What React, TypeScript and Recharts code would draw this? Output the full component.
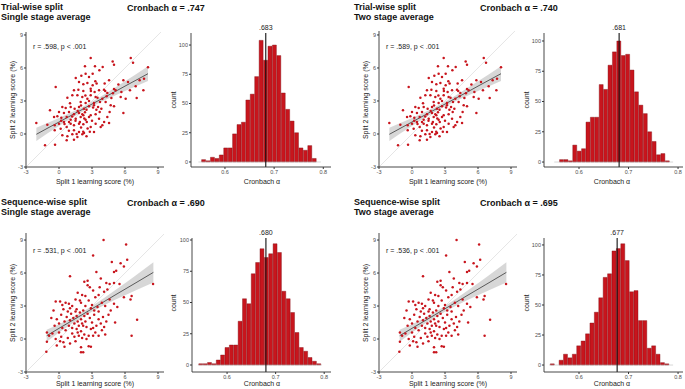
import {
  Area,
  Bar,
  BarChart,
  ComposedChart,
  Line,
  ReferenceLine,
  Scatter,
  XAxis,
  YAxis,
} from 'recharts';

const FONT = '"Liberation Sans", Arial, Helvetica, sans-serif';
const RED = '#c8151d';
const AXIS = '#333333';
const TICK = '#4d4d4d';

type Pt = [number, number];

// trial-wise split, split 1 vs split 2 learning score (%)
const trialPoints: Pt[] = [
  [2.88, 6.91], [4.88, 6.58], [6.52, 6.91], [6.73, 6.48], [8.09, 6.06], [3.27, 6.15], [2.36, 6.15], [3.67, 5.79], [3.97, 6.09], [5.0, 6.3],
  [1.52, 5.09], [2.03, 5.3], [2.42, 5.48], [2.73, 5.18], [3.06, 5.48], [5.85, 4.88], [6.27, 4.73], [7.33, 4.88], [7.73, 5.03], [1.82, 4.73],
  [2.21, 4.52], [2.58, 4.64], [3.06, 4.42], [3.42, 4.58], [4.15, 4.58], [4.55, 4.88], [-0.3, 4.27],
  [1.36, 3.97], [1.76, 4.03], [2.21, 3.91], [2.88, 4.12], [3.24, 3.82], [3.64, 3.97], [4.09, 4.03], [4.39, 3.73], [5.15, 3.97], [5.67, 3.82],
  [6.45, 3.97], [6.97, 4.33], [7.67, 3.97], [1.21, 3.52], [0.76, 3.3], [1.67, 3.52], [2.12, 3.36], [2.58, 3.21], [2.88, 3.52], [3.33, 3.36],
  [3.94, 3.21], [4.33, 3.42], [4.76, 3.27], [5.61, 3.36], [6.06, 3.21], [7.06, 3.27], [1.97, 2.91], [2.42, 2.82], [2.73, 3.0], [3.18, 2.82],
  [3.73, 2.91], [4.24, 2.91],
  [0.3, 2.45], [0.61, 2.36], [1.06, 2.45], [1.42, 2.3], [1.82, 2.45], [2.27, 2.3], [2.73, 2.52], [3.18, 2.61], [3.55, 2.45], [3.85, 2.3],
  [4.7, 2.61], [5.0, 2.52], [-0.82, 2.15], [0, 2.0], [0.45, 1.91], [0.91, 2.0], [1.36, 1.79], [1.82, 1.91], [2.12, 1.79], [2.36, 1.97],
  [2.88, 1.7], [3.33, 1.79], [5.85, 1.91], [-0.45, 1.55], [-0.15, 1.61], [0.21, 1.48], [0.7, 1.55], [1.06, 1.3], [1.52, 1.39], [1.97, 1.55],
  [2.21, 1.7], [2.42, 1.3], [2.73, 1.55], [3.64, 1.39], [4.39, 1.55], [0.91, 1.09],
  [-2.06, 1.0], [-1.06, 0.85], [-0.39, 0.79], [0, 0.94], [0.45, 1.09], [1.06, 0.94], [1.36, 0.79], [1.82, 0.94], [2.21, 0.88], [2.52, 1.09],
  [2.88, 0.64], [3.33, 0.94], [3.79, 0.64], [-0.39, 0.33], [0.15, 0.48], [0.7, 0.64], [1.36, 0.33], [1.82, 0.18], [2.27, 0.09], [0.3, -0.12],
  [0.76, -0.21], [1.21, -0.03], [1.67, -0.27], [2.12, -0.03], [3.18, 0.18], [3.94, 0.79], [4.55, 1.0],
  [-1.27, -1.03], [-0.36, -0.97], [0.7, -0.58], [1.36, -0.52],
  [1.5, 1.2], [1.9, 1.1], [2.0, 0.6], [2.3, 1.4], [2.6, 0.5], [1.7, 2.1], [2.0, 2.6], [2.5, 2.2], [1.2, 1.6], [0.9, 0.3],
  [3.0, 1.2], [3.4, 2.2], [2.9, 3.9], [3.3, 4.8], [2.2, 0.2], [2.5, -0.2], [3.7, 2.0], [4.1, 1.1], [4.9, 3.7], [5.4, 4.5],
  [4.6, 2.0], [3.5, 3.3], [0.5, 0.9], [1.0, 2.8], [2.4, 3.5], [3.1, 2.4], [1.6, 0.0], [0.2, 1.2], [2.8, 0.2], [4.2, 3.9], [5.0, 4.1],
];

// sequence-wise split
const seqPoints: Pt[] = [
  [4.05, 9.0], [6.1, 8.6], [3.1, 7.6], [6.2, 7.2], [4.8, 7.0], [5.6, 6.9], [5.2, 6.2], [5.0, 6.1], [5.9, 6.6], [3.4, 6.1],
  [1.0, 5.7], [3.8, 5.5], [2.3, 5.2], [2.6, 5.3], [2.6, 4.9], [2.8, 4.7], [3.1, 4.4], [4.3, 5.1], [4.6, 5.0], [5.0, 5.1],
  [5.5, 5.0], [1.7, 4.2], [2.1, 4.0], [3.6, 4.0], [4.1, 4.3], [8.55, 5.0], [5.9, 3.8], [6.6, 3.9], [6.5, 3.6], [7.1, 1.75],
  [6.6, 0.3], [-1.15, -1.15], [-1.1, -0.25], [2.0, -0.75], [2.2, -1.2], [2.0, -1.2], [2.7, -0.65], [2.9, -0.7],
  [0.1, 3.4], [0.3, 3.1], [0.6, 3.3], [0.9, 3.2], [-0.3, 3.4], [1.2, 3.0], [1.5, 3.6], [2.0, 3.3], [2.4, 3.0], [2.7, 3.5],
  [3.0, 3.1], [3.3, 3.8], [3.5, 2.9], [3.9, 3.3], [4.2, 3.0], [4.6, 3.6], [5.0, 3.2], [5.3, 2.9], [4.7, 2.6], [1.6, 2.7],
  [2.2, 2.6], [2.9, 2.8], [3.6, 2.5], [-0.5, 2.6], [0.4, 2.7], [0.8, 2.5],
  [-0.7, 1.9], [-0.2, 1.8], [0.2, 2.2], [0.5, 1.6], [0.7, 2.0], [1.0, 1.7], [1.1, 2.3], [1.3, 1.9], [1.4, 1.4], [1.6, 2.1],
  [1.7, 1.6], [1.8, 1.2], [1.9, 2.4], [2.0, 1.8], [2.1, 1.4], [2.3, 2.1], [2.4, 1.6], [2.5, 1.1], [2.6, 2.3], [2.8, 1.9],
  [3.0, 1.5], [3.2, 2.2], [3.4, 1.2], [3.6, 1.8], [3.8, 1.4], [4.0, 2.0], [4.3, 1.6], [4.5, 2.2], [-0.4, 1.2], [0.0, 1.4],
  [0.3, 1.0], [0.9, 1.2], [1.2, 1.0], [2.2, 1.2], [4.1, 1.1], [5.1, 1.5], [3.1, 1.0], [1.5, 2.5],
  [-1.1, 0.6], [-0.9, 0.3], [-0.6, 0.5], [-0.3, 0.0], [0.0, 0.6], [0.2, 0.2], [0.4, -0.3], [0.6, 0.8], [0.8, 0.1], [1.0, -0.4],
  [1.2, 0.5], [1.4, 0.2], [1.6, 0.9], [1.8, 0.3], [2.0, 0.7], [2.3, 0.4], [2.5, 0.0], [2.7, 0.3], [2.9, 0.9], [3.1, 0.3],
  [3.3, 0.6], [3.6, 0.3], [3.9, 0.8], [4.2, 0.4], [-0.2, -0.6], [0.5, -0.7], [1.5, -0.2], [0.1, -0.2], [2.1, 0.1], [1.7, 0.6],
  [3.7, 4.7], [4.4, 4.5], [2.4, 3.9], [1.9, 3.5], [3.2, 2.6], [1.0, 2.8],
];

// linear fits with 95% band
const trialFitX = [-2.06, -1, 0, 1, 2, 2.5, 3, 4, 5, 6, 7, 8.09];
const trialFitY = [-0.03, 0.55, 1.09, 1.63, 2.17, 2.45, 2.72, 3.26, 3.8, 4.35, 4.89, 5.48];
const trialCiLo = [-0.63, 0.08, 0.73, 1.36, 1.95, 2.24, 2.5, 2.99, 3.45, 3.9, 4.34, 4.81];
const trialCiHi = [0.57, 1.02, 1.45, 1.9, 2.39, 2.66, 2.94, 3.53, 4.15, 4.8, 5.44, 6.15];

const seqFitX = [-1.12, 0, 1, 2, 3, 4, 5, 6, 7, 8.58];
const seqFitY = [0.3, 0.97, 1.56, 2.15, 2.75, 3.34, 3.94, 4.53, 5.12, 6.06];
const seqCiLo = [-0.25, 0.59, 1.28, 1.91, 2.49, 3.02, 3.52, 3.98, 4.44, 5.14];
const seqCiHi = [0.85, 1.35, 1.84, 2.39, 3.01, 3.66, 4.36, 5.08, 5.8, 6.98];

// bootstrap Cronbach alpha histograms
const hist1Counts = [2, 1, 4, 3, 6, 12, 12, 24, 32, 34, 53, 58, 73, 104, 87, 99, 100, 91, 59, 45, 35, 25, 12, 10, 14, 3];
const hist2Counts = [2, 2, 1, 14, 9, 11, 33, 37, 37, 64, 60, 80, 91, 100, 88, 89, 76, 58, 47, 40, 25, 17, 6, 7, 1];
const hist3Counts = [1, 1, 2, 1, 4, 8, 14, 16, 16, 35, 53, 49, 73, 82, 93, 86, 89, 97, 90, 59, 53, 42, 26, 14, 11, 6, 3, 1];
const hist4Counts = [1, 0, 4, 9, 6, 9, 16, 20, 26, 35, 44, 56, 73, 76, 95, 97, 101, 87, 61, 62, 37, 37, 14, 16, 9, 2, 1];
const histStart = [0.5525, 0.5607, 0.5418, 0.542];
const histBinWidth = [0.009, 0.0089, 0.009, 0.0089];
const histMean = [0.683, 0.681, 0.68, 0.677];
const histMeanLabel = ['.683', '.681', '.680', '.677'];
const histBase = [[0.546, 0.795], [0.55, 0.79], [0.54, 0.795], [0.54, 0.79]];

const scatterTicks = [-3, 0, 3, 6, 9];
const histXTicks = [0.6, 0.7, 0.8];
const histYTicks = [0, 25, 50, 75, 100];

const titles = [
  ['Trial-wise split', 'Single stage average', 'Cronbach α = .747', 'r = .598, p < .001'],
  ['Trial-wise split', 'Two stage average', 'Cronbach α = .740', 'r = .589, p < .001'],
  ['Sequence-wise split', 'Single stage average', 'Cronbach α = .690', 'r = .531, p < .001'],
  ['Sequence-wise split', 'Two stage average', 'Cronbach α = .695', 'r = .536, p < .001'],
];

const Dot = (p: any) => <circle cx={p.cx} cy={p.cy} r={1.25} fill={RED} />;

const tickStyle = { fontSize: 5.5, fill: TICK, fontFamily: FONT };

function ScatterPanel(props: {
  left: number; top: number; width: number; height: number; yMax: number;
  points: Pt[]; fitX: number[]; fitY: number[]; lo: number[]; hi: number[];
}) {
  const { left, top, width, height, yMax, points, fitX, fitY, lo, hi } = props;
  const YW = 18, XH = 14, MT = 2, MR = 2;
  const fit = fitX.map((x, i) => ({ x, fit: fitY[i], band: [lo[i], hi[i]] }));
  const pts = points.map(([x, y]) => ({ x, y }));
  return (
    <div style={{ position: 'absolute', left: left - YW, top: top - MT }}>
      <ComposedChart
        width={YW + width + MR}
        height={MT + height + XH}
        data={fit}
        margin={{ top: MT, right: MR, bottom: 0, left: 0 }}
      >
        <XAxis
          type="number"
          dataKey="x"
          domain={[-3, -3 + width / 11]}
          allowDataOverflow
          ticks={scatterTicks}
          height={XH}
          tick={tickStyle}
          tickSize={2}
          tickMargin={1}
          axisLine={{ stroke: AXIS, strokeWidth: 0.9 }}
          tickLine={{ stroke: AXIS }}
        />
        <YAxis
          type="number"
          dataKey="y"
          domain={[-3, yMax]}
          allowDataOverflow
          ticks={scatterTicks}
          width={YW}
          tick={tickStyle}
          tickSize={2}
          tickMargin={1}
          axisLine={{ stroke: AXIS, strokeWidth: 0.9 }}
          tickLine={{ stroke: AXIS }}
        />
        <ReferenceLine
          segment={[{ x: -3, y: -3 }, { x: 12, y: 12 }]}
          ifOverflow="hidden"
          stroke="#d4d4d4"
          strokeWidth={0.6}
        />
        <Scatter data={pts} shape={Dot} isAnimationActive={false} />
        <Area
          dataKey="band"
          type="linear"
          fill="#bdbdbd"
          fillOpacity={0.6}
          stroke="none"
          isAnimationActive={false}
        />
        <Line
          dataKey="fit"
          type="linear"
          stroke="#3a3a3a"
          strokeWidth={0.8}
          dot={false}
          isAnimationActive={false}
        />
      </ComposedChart>
    </div>
  );
}

function MeanLabel(props: any) {
  const { viewBox, value } = props;
  const x = viewBox.x + (viewBox.width || 0) / 2;
  return (
    <text x={x} y={viewBox.y - 3} textAnchor="middle" fontSize={7} fill="#222" fontFamily={FONT}>
      {value}
    </text>
  );
}

function HistPanel(props: {
  idx: number; counts: number[]; left: number; top: number; width: number; height: number;
  xDomain: [number, number]; yDomain: [number, number];
}) {
  const { idx, counts, left, top, width, height, xDomain, yDomain } = props;
  const YW = 16, XH = 14, MT = 12, MR = 2;
  const start = histStart[idx];
  const bw = histBinWidth[idx];
  const bins = counts.map((n, i) => ({ x: start + bw * (i + 0.5), n }));
  const barSize = (width * bw) / (xDomain[1] - xDomain[0]);
  return (
    <div style={{ position: 'absolute', left: left - YW, top: top - MT }}>
      <BarChart
        width={YW + width + MR}
        height={MT + height + XH}
        data={bins}
        margin={{ top: MT, right: MR, bottom: 0, left: 0 }}
        barCategoryGap={0}
        barGap={0}
      >
        <XAxis
          type="number"
          dataKey="x"
          domain={xDomain}
          allowDataOverflow
          ticks={histXTicks}
          tickFormatter={(v) => v.toFixed(1)}
          height={XH}
          tick={tickStyle}
          tickSize={2}
          tickMargin={1}
          axisLine={{ stroke: AXIS, strokeWidth: 0.9 }}
          tickLine={{ stroke: AXIS }}
        />
        <YAxis
          type="number"
          domain={yDomain}
          allowDataOverflow
          ticks={histYTicks}
          width={YW}
          tick={tickStyle}
          tickSize={2}
          tickMargin={1}
          axisLine={{ stroke: AXIS, strokeWidth: 0.9 }}
          tickLine={{ stroke: AXIS }}
        />
        <ReferenceLine
          segment={[{ x: histBase[idx][0], y: 0 }, { x: histBase[idx][1], y: 0 }]}
          stroke="#bdbdbd"
          strokeWidth={0.6}
        />
        <Bar
          dataKey="n"
          fill={RED}
          stroke="#7d0f14"
          strokeWidth={0.4}
          barSize={barSize}
          isAnimationActive={false}
        />
        <ReferenceLine
          x={histMean[idx]}
          stroke="#111"
          strokeWidth={1.1}
          label={<MeanLabel value={histMeanLabel[idx]} />}
        />
      </BarChart>
    </div>
  );
}

function Txt(props: { x: number; y: number; size: number; bold?: boolean; rotate?: boolean; left?: boolean; children: any }) {
  const { x, y, size, bold, rotate, left, children } = props;
  return (
    <div
      style={{
        position: 'absolute',
        left: x,
        top: y,
        fontSize: size,
        fontWeight: bold ? 700 : 400,
        color: bold ? '#111' : '#222',
        whiteSpace: 'nowrap',
        lineHeight: 1,
        transform: `translate(${left ? '0' : '-50%'}, -50%)${rotate ? ' rotate(-90deg)' : ''}`,
      }}
    >
      {children}
    </div>
  );
}

export default function App() {
  const colX = [0, 353];
  return (
    <div
      style={{
        position: 'absolute',
        left: 0,
        top: 0,
        width: 685,
        height: 389,
        background: '#fff',
        fontFamily: FONT,
        overflow: 'hidden',
      }}
    >
      {titles.map((t, i) => {
        const cx = colX[i % 2];
        const ry = i < 2 ? 0 : 195;
        return (
          <div key={i}>
            <Txt x={cx + 1} y={ry + 6.5} size={9} bold left>{t[0]}</Txt>
            <Txt x={cx + 1} y={ry + 16.5} size={9} bold left>{t[1]}</Txt>
            <Txt x={cx + 127} y={ry + 8} size={9} bold left>{t[2]}</Txt>
            <Txt x={cx + 33} y={ry + (i < 2 ? 46 : 55)} size={7} left>{t[3]}</Txt>
            <Txt x={cx + 95} y={ry + (i < 2 ? 181 : 188)} size={7}>Split 1 learning score (%)</Txt>
            <Txt x={cx + 12} y={ry + (i < 2 ? 100 : 108)} size={7} rotate>Split 2 learning score (%)</Txt>
            <Txt x={cx + 173} y={ry + (i < 2 ? 100 : 108)} size={7} rotate>count</Txt>
            <Txt x={cx + (i % 2 ? 259 : 262)} y={ry + (i < 2 ? 181 : 188)} size={7}>Cronbach α</Txt>
          </div>
        );
      })}

      <ScatterPanel left={26} top={32} width={138} height={135} yMax={9.27}
        points={trialPoints} fitX={trialFitX} fitY={trialFitY} lo={trialCiLo} hi={trialCiHi} />
      <ScatterPanel left={379} top={31} width={138} height={136} yMax={9.36}
        points={trialPoints} fitX={trialFitX} fitY={trialFitY} lo={trialCiLo} hi={trialCiHi} />
      <ScatterPanel left={26} top={233} width={138} height={139} yMax={9.64}
        points={seqPoints} fitX={seqFitX} fitY={seqFitY} lo={seqCiLo} hi={seqCiHi} />
      <ScatterPanel left={379} top={233} width={138} height={139} yMax={9.64}
        points={seqPoints} fitX={seqFitX} fitY={seqFitY} lo={seqCiLo} hi={seqCiHi} />

      <HistPanel idx={0} counts={hist1Counts} left={191} top={33} width={140} height={134}
        xDomain={[0.5309, 0.8157]} yDomain={[-4.3, 110.3]} />
      <HistPanel idx={1} counts={hist2Counts} left={544} top={33} width={139} height={134}
        xDomain={[0.5293, 0.81]} yDomain={[-4.1, 106.6]} />
      <HistPanel idx={2} counts={hist3Counts} left={192} top={238} width={139} height={134}
        xDomain={[0.5278, 0.814]} yDomain={[-5.6, 101.6]} />
      <HistPanel idx={3} counts={hist4Counts} left={544} top={238} width={139} height={134}
        xDomain={[0.5293, 0.81]} yDomain={[-5.8, 105.8]} />
    </div>
  );
}
